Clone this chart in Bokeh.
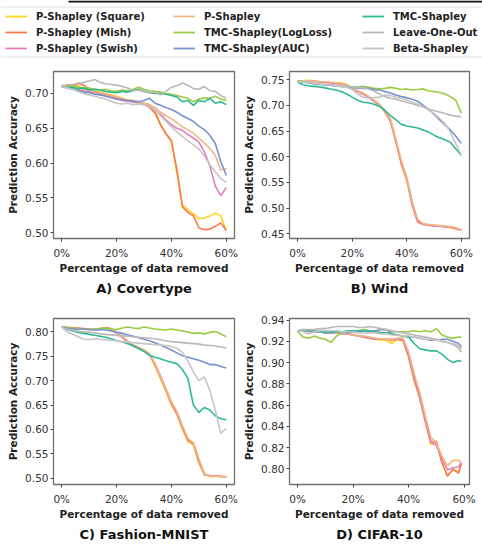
from bokeh.plotting import figure
from bokeh.models import (Range1d, FixedTicker, NumeralTickFormatter, CustomJSTickFormatter,
                          LinearAxis, Legend, LegendItem, Span, BoxAnnotation)
from bokeh.layouts import column, row
from bokeh.embed import file_html
from bokeh.resources import INLINE

# ---------------- data ----------------
NAMES = ["P-Shapley (Square)", "P-Shapley (Mish)", "P-Shapley (Swish)", "P-Shapley",
         "TMC-Shapley(LogLoss)", "TMC-Shapley(AUC)", "TMC-Shapley", "Leave-One-Out", "Beta-Shapley"]
COLORS = ["#ffd31f", "#f8784f", "#e57fbd", "#f0b785", "#98cc44", "#7892cc", "#2fb993", "#b8b8b8", "#c6c6c6"]

PCT = [0, 2, 4, 6, 8, 10, 12, 14, 16, 18, 20, 22, 24, 26, 28, 30, 32, 34, 36, 38, 40,
       42, 44, 46, 48, 50, 52, 54, 56, 58, 60]
PCT_D = [0, 2, 4, 6, 8, 10, 12, 14, 16, 18, 20, 22, 24, 26, 28, 30, 32, 34, 36, 38, 40,
         42, 44, 46, 48, 50, 52, 54, 56, 58, 59]

# A) Covertype
A_square = [.710,.709,.708,.712,.707,.703,.705,.702,.700,.698,.696,.693,.691,.688,.687,.686,.684,.676,.656,.643,.630,.585,.540,.533,.527,.520,.521,.524,.528,.524,.503]
A_mish = [.710,.712,.710,.715,.712,.706,.703,.700,.699,.697,.694,.692,.690,.688,.686,.684,.680,.672,.655,.642,.632,.590,.537,.529,.524,.507,.504,.505,.509,.514,.503]
A_swish = [.710,.708,.707,.706,.704,.703,.701,.699,.697,.695,.692,.690,.689,.688,.687,.686,.682,.676,.670,.662,.655,.650,.647,.641,.636,.630,.616,.596,.567,.553,.565]
A_pshap = [.710,.709,.708,.707,.706,.705,.703,.701,.699,.697,.695,.693,.691,.690,.688,.686,.684,.680,.673,.668,.664,.658,.652,.648,.643,.636,.629,.621,.611,.590,.592]
A_logloss = [.712,.710,.711,.709,.707,.708,.706,.705,.706,.704,.703,.705,.704,.706,.709,.706,.704,.703,.702,.700,.699,.697,.695,.693,.688,.692,.694,.693,.696,.692,.690]
A_auc = [.710,.708,.706,.704,.702,.701,.699,.698,.696,.694,.692,.691,.690,.689,.688,.690,.693,.686,.683,.680,.677,.673,.668,.664,.660,.653,.648,.640,.628,.602,.582]
A_tmc = [.710,.709,.708,.707,.708,.705,.706,.705,.703,.702,.701,.703,.702,.704,.706,.703,.701,.700,.700,.699,.697,.695,.688,.690,.683,.690,.688,.693,.686,.688,.684]
A_loo = [.710,.712,.713,.714,.716,.718,.720,.716,.714,.713,.712,.710,.708,.704,.705,.703,.701,.702,.698,.703,.709,.711,.715,.712,.707,.706,.710,.704,.703,.697,.693]
A_beta = [.710,.708,.706,.703,.700,.698,.696,.694,.692,.689,.686,.685,.686,.684,.685,.684,.681,.677,.668,.660,.652,.645,.638,.632,.626,.620,.610,.598,.587,.578,.572]

# B) Wind
B_square = [.748,.748,.749,.748,.746,.745,.744,.744,.744,.740,.734,.727,.722,.716,.708,.700,.687,.669,.628,.585,.554,.508,.476,.470,.467,.466,.466,.464,.462,.460,.457]
B_mish = [.748,.747,.748,.747,.746,.745,.744,.743,.742,.739,.733,.728,.723,.717,.709,.701,.688,.670,.630,.588,.556,.505,.473,.468,.467,.466,.465,.464,.463,.460,.457]
B_swish = [.748,.747,.747,.747,.745,.745,.744,.742,.741,.738,.732,.727,.722,.716,.708,.700,.688,.671,.632,.590,.558,.510,.475,.469,.467,.465,.465,.464,.463,.461,.458]
B_pshap = [.748,.748,.748,.747,.746,.746,.745,.744,.742,.740,.734,.729,.724,.718,.710,.702,.690,.673,.635,.593,.560,.512,.478,.470,.468,.467,.466,.465,.464,.462,.458]
B_logloss = [.748,.746,.744,.742,.741,.740,.739,.738,.737,.736,.735,.736,.737,.735,.733,.732,.733,.735,.733,.731,.732,.730,.731,.732,.728,.727,.725,.722,.717,.710,.685]
B_auc = [.745,.746,.744,.742,.741,.740,.739,.738,.737,.736,.735,.734,.733,.733,.731,.730,.727,.724,.720,.717,.715,.712,.708,.700,.692,.683,.672,.662,.652,.640,.626]
B_tmc = [.745,.740,.738,.737,.736,.734,.732,.730,.727,.722,.716,.710,.706,.705,.702,.698,.690,.680,.672,.663,.660,.658,.656,.652,.648,.642,.637,.633,.628,.615,.603]
B_loo = [.745,.746,.745,.743,.742,.741,.740,.739,.738,.737,.736,.735,.734,.732,.728,.722,.717,.714,.712,.709,.706,.703,.700,.697,.693,.690,.687,.684,.681,.679,.678]
B_beta = [.745,.747,.746,.744,.742,.741,.740,.738,.737,.735,.731,.722,.716,.714,.715,.716,.720,.719,.716,.714,.711,.706,.702,.697,.691,.684,.675,.664,.648,.625,.603]

# C) Fashion-MNIST
C_square = [.810,.809,.808,.807,.806,.806,.805,.806,.808,.806,.798,.790,.780,.772,.767,.762,.754,.730,.704,.678,.650,.630,.600,.575,.568,.530,.507,.505,.505,.504,.503]
C_mish = [.810,.809,.809,.808,.807,.806,.806,.807,.809,.807,.799,.791,.781,.773,.768,.763,.755,.733,.707,.681,.653,.633,.604,.578,.571,.535,.509,.504,.505,.503,.503]
C_swish = [.810,.808,.808,.806,.806,.805,.805,.805,.807,.805,.797,.789,.779,.771,.766,.761,.753,.734,.710,.684,.655,.634,.606,.580,.572,.537,.508,.505,.504,.504,.503]
C_pshap = [.810,.809,.808,.807,.806,.806,.806,.806,.808,.806,.799,.790,.781,.773,.768,.762,.756,.735,.708,.683,.657,.637,.608,.582,.573,.540,.510,.503,.504,.503,.503]
C_logloss = [.810,.809,.808,.806,.806,.805,.806,.807,.808,.806,.805,.808,.810,.808,.807,.810,.808,.806,.805,.804,.806,.804,.802,.800,.797,.798,.796,.799,.801,.796,.790]
C_auc = [.810,.808,.806,.805,.806,.805,.804,.805,.804,.802,.800,.797,.794,.791,.788,.785,.782,.778,.773,.768,.763,.757,.751,.748,.745,.742,.738,.733,.733,.729,.726]
C_tmc = [.810,.805,.802,.799,.797,.795,.793,.791,.789,.786,.782,.780,.776,.772,.766,.760,.752,.748,.745,.741,.738,.735,.723,.705,.650,.635,.645,.640,.628,.622,.620]
C_loo = [.810,.806,.803,.801,.800,.799,.798,.796,.795,.794,.793,.792,.791,.790,.789,.788,.787,.786,.784,.782,.780,.779,.778,.777,.776,.775,.773,.772,.771,.769,.767]
C_beta = [.810,.800,.795,.790,.785,.784,.786,.785,.784,.783,.782,.780,.779,.778,.777,.776,.775,.774,.773,.772,.770,.766,.758,.740,.718,.700,.708,.680,.640,.592,.602]

# D) CIFAR-10
D_square = [.930,.930,.930,.929,.929,.929,.929,.928,.927,.927,.926,.925,.924,.923,.922,.921,.921,.918,.922,.920,.905,.882,.866,.844,.823,.824,.806,.794,.799,.797,.805]
D_mish = [.930,.930,.930,.929,.929,.929,.929,.929,.928,.927,.926,.925,.924,.923,.922,.922,.922,.921,.922,.921,.906,.884,.868,.845,.825,.826,.806,.793,.800,.796,.805]
D_swish = [.930,.930,.929,.929,.929,.928,.928,.928,.927,.927,.926,.925,.924,.923,.922,.922,.922,.922,.922,.921,.907,.886,.867,.846,.826,.822,.810,.799,.801,.802,.806]
D_pshap = [.930,.930,.930,.929,.929,.929,.928,.928,.928,.927,.926,.925,.925,.924,.923,.922,.922,.922,.923,.923,.910,.890,.872,.850,.830,.824,.812,.803,.808,.808,.806]
D_logloss = [.929,.924,.923,.925,.923,.922,.919,.925,.928,.929,.929,.930,.931,.930,.929,.928,.928,.929,.929,.929,.929,.930,.929,.930,.929,.932,.926,.924,.923,.924,.924]
D_auc = [.930,.931,.930,.930,.929,.929,.928,.929,.929,.928,.929,.929,.930,.930,.930,.931,.931,.927,.926,.925,.924,.924,.923,.922,.921,.921,.922,.922,.920,.918,.915]
D_tmc = [.930,.930,.930,.929,.929,.928,.929,.929,.929,.930,.930,.930,.930,.929,.929,.928,.928,.927,.926,.925,.924,.918,.913,.912,.911,.911,.908,.903,.900,.902,.901]
D_loo = [.930,.931,.931,.931,.932,.932,.933,.934,.934,.934,.934,.933,.933,.934,.933,.932,.931,.930,.929,.928,.927,.926,.925,.924,.923,.922,.921,.919,.917,.914,.910]
D_beta = [.930,.929,.927,.929,.930,.930,.930,.930,.929,.929,.929,.928,.928,.928,.928,.927,.927,.926,.926,.925,.925,.924,.923,.922,.922,.921,.920,.919,.918,.916,.913]

A_TICKS = [0.50, 0.55, 0.60, 0.65, 0.70]
B_TICKS = [0.45, 0.50, 0.55, 0.60, 0.65, 0.70, 0.75]
C_TICKS = [0.50, 0.55, 0.60, 0.65, 0.70, 0.75, 0.80]
D_TICKS = [0.80, 0.82, 0.84, 0.86, 0.88, 0.90, 0.92, 0.94]
X_TICKS = [0, 20, 40, 60]

FONT = "DejaVu Sans"


def panel(xs, series, yr, xr, yticks, title, width, height, left, right, top, bottom):
    p = figure(width=width, height=height, x_range=Range1d(*xr), y_range=Range1d(*yr),
               output_backend="svg", toolbar_location=None,
               min_border_left=left, min_border_right=right,
               min_border_top=top, min_border_bottom=bottom)
    for ys, c in zip(series, COLORS):
        p.line(xs, ys, line_color=c, line_width=1.6)
    p.xgrid.visible = False
    p.ygrid.visible = False
    p.outline_line_color = "#707070"
    p.outline_line_width = 1.3
    p.xaxis.ticker = FixedTicker(ticks=X_TICKS)
    p.xaxis.formatter = CustomJSTickFormatter(code="return tick.toFixed(0) + '%';")
    p.yaxis.ticker = FixedTicker(ticks=yticks)
    p.yaxis.formatter = NumeralTickFormatter(format="0.00")
    p.xaxis.axis_label = "Percentage of data removed"
    p.yaxis.axis_label = "Prediction Accuracy"
    for ax in (p.xaxis, p.yaxis):
        ax.axis_line_color = None
        ax.major_tick_line_color = "#444444"
        ax.major_tick_out = 3
        ax.major_tick_in = 0
        ax.minor_tick_line_color = None
        ax.major_label_text_font = FONT
        ax.major_label_text_font_size = "10.5px"
        ax.major_label_text_color = "#333333"
        ax.axis_label_text_font = FONT
        ax.axis_label_text_font_size = "10.5px"
        ax.axis_label_text_font_style = "bold"
        ax.axis_label_text_color = "#222222"
    p.xaxis.major_label_standoff = 5
    p.yaxis.major_label_standoff = 2
    p.xaxis.axis_label_standoff = 0
    p.yaxis.axis_label_standoff = 3
    # panel caption drawn as the label of a tickless second bottom axis
    cap = LinearAxis(ticker=FixedTicker(ticks=[]), axis_label=title,
                     axis_line_color=None, major_tick_line_color=None, minor_tick_line_color=None,
                     major_tick_out=0, major_tick_in=0, minor_tick_out=0, major_label_standoff=0,
                     axis_label_standoff=4, axis_label_text_font=FONT,
                     axis_label_text_font_size="13px", axis_label_text_font_style="bold",
                     axis_label_text_color="#111111")
    p.add_layout(cap, "below")
    return p


pA = panel(PCT, [A_square, A_mish, A_swish, A_pshap, A_logloss, A_auc, A_tmc, A_loo, A_beta],
           (0.4915, 0.7316), (-3, 63), A_TICKS, "A) Covertype", 240, 240, 53, 6, 13, 52)
pB = panel(PCT, [B_square, B_mish, B_swish, B_pshap, B_logloss, B_auc, B_tmc, B_loo, B_beta],
           (0.4409, 0.7659), (-3, 63), B_TICKS, "B) Wind", 241, 240, 48, 12, 13, 52)
pC = panel(PCT, [C_square, C_mish, C_swish, C_pshap, C_logloss, C_auc, C_tmc, C_loo, C_beta],
           (0.4872, 0.8275), (-3, 63), C_TICKS, "C) Fashion-MNIST", 240, 246, 53, 6, 20, 52)
pD = panel(PCT_D, [D_square, D_mish, D_swish, D_pshap, D_logloss, D_auc, D_tmc, D_loo, D_beta],
           (0.7853, 0.9415), (-2.95, 61.95), D_TICKS, "D) CIFAR-10", 241, 246, 48, 12, 20, 52)

# ---------------- legend strip ----------------
LEG_W, LEG_H = 482, 58
leg = figure(width=LEG_W, height=LEG_H, x_range=Range1d(0, LEG_W), y_range=Range1d(0, LEG_H),
             output_backend="svg", toolbar_location=None, x_axis_type=None, y_axis_type=None,
             min_border=0, min_border_left=0, min_border_right=0, min_border_top=0, min_border_bottom=0)
leg.outline_line_color = None
leg.add_layout(Span(location=LEG_H - 6.5, dimension="width", line_color="#e2e2e2", line_width=1))
leg.add_layout(Span(location=1.5, dimension="width", line_color="#e2e2e2", line_width=1))
leg.add_layout(BoxAnnotation(left=68, right=LEG_W, bottom=LEG_H - 2, top=LEG_H,
                             fill_color="#111111", fill_alpha=1, line_color=None))

NAN = float("nan")
rends = [leg.line([0], [NAN], line_color=c, line_width=1.8) for c in COLORS]
for k, xpos in enumerate([5, 173, 362]):
    items = [LegendItem(label=NAMES[3 * k + j], renderers=[rends[3 * k + j]]) for j in range(3)]
    lg = Legend(items=items, location=(xpos, 2), orientation="vertical",
                glyph_width=22, glyph_height=16, label_height=16, label_standoff=9,
                spacing=0, padding=0, margin=0, border_line_color=None,
                background_fill_alpha=0, label_text_font=FONT, label_text_font_size="10px",
                label_text_font_style="bold", label_text_color="#222222")
    leg.add_layout(lg, "center")

layout = column(leg, row(pA, pB), row(pC, pD))
open("out.html", "w").write(file_html(layout, INLINE))
